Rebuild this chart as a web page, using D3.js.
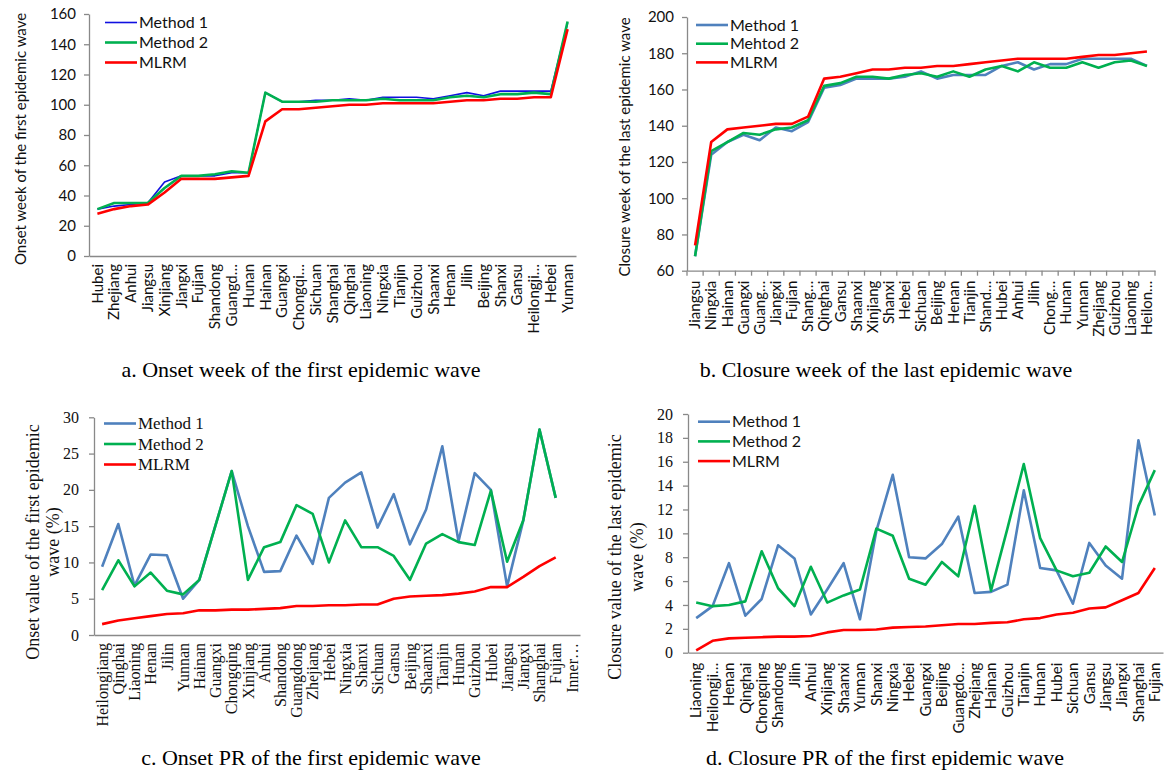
<!DOCTYPE html>
<html>
<head>
<meta charset="utf-8">
<script src="https://cdn.jsdelivr.net/npm/d3@7"></script>
<style>
  body { margin: 0; background: #fff; }
  svg { display: block; }
</style>
</head>
<body>
<svg id="chart" width="1168" height="774"></svg>
<script>
// ---------- Series names ----------
const seriesNames = ["Method 1", "Method 2", "MLRM"];
const seriesNamesB = ["Method 1", "Mehtod 2", "MLRM"];

// ---------- a. Onset week of the first epidemic wave ----------
const catsA = ["Hubei","Zhejiang","Anhui","Jiangsu","Xinjiang","Jiangxi","Fujian","Shandong","Guangd…","Hunan",
  "Hainan","Guangxi","Chongqi…","Sichuan","Shanghai","Qinghai","Liaoning","Ningxia","Tianjin","Guizhou",
  "Shaanxi","Henan","Jilin","Beijing","Shanxi","Gansu","Heilongji…","Hebei","Yunnan"];
const aMethod1 = [31,33,34,35,49,53,53,53,55,55,108,102,102,103,103,104,103,105,105,105,104,106,108,106,109,109,109,109,154];
const aMethod2 = [31,35,35,35,45,53,53,54,56,55,108,102,102,102,103,103,103,104,103,103,103,105,106,105,107,107,108,107,155];
const aMLRM    = [28,31,33,34,42,51,51,51,52,53,89,97,97,98,99,100,100,101,101,101,101,102,103,103,104,104,105,105,150];
const yTicksA = [0,20,40,60,80,100,120,140,160];

// ---------- b. Closure week of the last epidemic wave ----------
const catsB = ["Jiangsu","Ningxia","Hainan","Guangxi","Guang…","Jiangxi","Fujian","Shang…","Qinghai","Gansu",
  "Shaanxi","Xinjiang","Shanxi","Hebei","Sichuan","Beijing","Henan","Tianjin","Shand…","Hubei",
  "Anhui","Jilin","Chong…","Hunan","Yunnan","Zhejiang","Guizhou","Liaoning","Heilon…"];
const bMethod1 = [68,124,131,135,132,139,137,142,161,162.5,166,166,166,167,170,166,168,168,168,173,175,171,174,174,177,177,177,177,173];
const bMethod2 = [68,126,131,136,135,138,139,143,162,163.5,167,167,166,168,169,167,170,167,171,173,170,175,172,172,175,172,175,176,173];
const bMLRM    = [74,131,138,139,140,141,141,145,166,167,169,171,171,172,172,173,173,174,175,176,177,177,177,177,178,179,179,180,181];
const yTicksB = [60,80,100,120,140,160,180,200];

// ---------- c. Onset PR of the first epidemic wave ----------
const catsC = ["Heilongjiang","Qinghai","Liaoning","Henan","Jilin","Yunnan","Hainan","Guangxi","Chongqing","Xinjiang",
  "Anhui","Shandong","Guangdong","Zhejiang","Hebei","Ningxia","Shanxi","Sichuan","Gansu","Beijing",
  "Shaanxi","Tianjin","Hunan","Guizhou","Hubei","Jiangsu","Jiangxi","Shanghai","Fujian","Inner…"];
const cMethod1 = [9.4,15.3,6.8,11.1,11.0,5.0,7.6,15.1,22.6,15.0,8.7,8.8,13.7,9.8,18.9,21.0,22.4,14.8,19.4,12.5,17.3,26.0,12.9,22.3,20.0,6.7,15.8,28.3,18.9,null];
const cMethod2 = [6.2,10.3,6.7,8.6,6.1,5.6,7.6,15.1,22.6,7.6,12.1,12.8,17.9,16.7,10.0,15.8,12.1,12.1,10.9,7.6,12.6,13.9,12.8,12.4,19.9,10.1,15.8,28.3,18.9,null];
const cMLRM    = [1.5,2.0,2.3,2.6,2.9,3.0,3.4,3.4,3.5,3.5,3.6,3.7,4.0,4.0,4.1,4.1,4.2,4.2,5.0,5.3,5.4,5.5,5.7,6.0,6.6,6.6,8.0,9.5,10.7,null];
const yTicksC = [0,5,10,15,20,25,30];

// ---------- d. Closure PR of the first epidemic wave ----------
const catsD = ["Liaoning","Heilongji…","Henan","Qinghai","Chongqing","Shandong","Jilin","Anhui","Xinjiang","Shaanxi",
  "Yunnan","Shanxi","Ningxia","Hebei","Guangxi","Beijing","Guangdo…","Zhejiang","Hainan","Guizhou",
  "Tianjin","Hunan","Hubei","Sichuan","Gansu","Jiangsu","Jiangxi","Shanghai","Fujian"];
const dMethod1 = [2.9,3.9,7.5,3.1,4.5,9.0,7.9,3.2,5.3,7.5,2.8,10.2,14.9,8.0,7.9,9.1,11.4,5.0,5.1,5.7,13.6,7.1,6.9,4.1,9.2,7.3,6.2,17.8,11.5];
const dMethod2 = [4.2,3.9,4.0,4.3,8.5,5.4,3.9,7.2,4.2,4.8,5.3,10.4,9.8,6.2,5.7,7.6,6.4,12.3,5.2,10.4,15.8,9.6,6.9,6.4,6.7,8.9,7.6,12.3,15.3];
const dMLRM    = [0.2,1.0,1.2,1.25,1.3,1.35,1.35,1.4,1.7,1.9,1.9,1.95,2.1,2.15,2.2,2.3,2.4,2.4,2.5,2.55,2.8,2.9,3.2,3.35,3.7,3.8,4.4,5.0,7.1];
const yTicksD = [0,2,4,6,8,10,12,14,16,18,20];

// ---------- Shared styling ----------
const SANS = "Lato, 'Liberation Sans', sans-serif";
const SERIF = "'Liberation Serif', 'Times New Roman', serif";
const AXIS = "#898989";
const RED = "#ff0000";
const GREEN = "#00b050";
const STEEL = "#4f81bd";
const BLUE = "#1010e0";

const svg = d3.select("#chart");

function drawPanel(p) {
  const g = svg.append("g");
  const x = d3.scaleBand().domain(p.cats).range([p.x0, p.x1]);
  const y = d3.scaleLinear().domain(p.yDomain).range([p.yBottom, p.yTop]);
  const half = x.bandwidth() / 2;

  // y axis
  const ya = g.append("g")
    .attr("transform", `translate(${p.x0},0)`)
    .call(d3.axisLeft(y).tickValues(p.yTicks).tickSize(5).tickSizeOuter(0).tickPadding(p.yPad).tickFormat(d3.format("d")));
  ya.select(".domain").attr("stroke", AXIS).attr("stroke-width", 1.3);
  ya.selectAll(".tick line").attr("stroke", AXIS).attr("stroke-width", 1.3);
  ya.selectAll(".tick text").attr("fill", "#111").style("font-family", p.tickFont).style("font-size", p.tickSize + "px");

  // x axis with vertical category labels
  const xa = g.append("g")
    .attr("transform", `translate(0,${p.yBottom})`)
    .call(d3.axisBottom(x).tickSize(0).tickSizeOuter(0));
  xa.select(".domain").attr("stroke", AXIS).attr("stroke-width", 1.3);
  xa.selectAll(".tick text")
    .attr("transform", "rotate(-90)")
    .attr("x", -p.xPad).attr("y", 0).attr("dy", "0.35em")
    .attr("text-anchor", "end")
    .attr("fill", "#111")
    .style("font-family", p.catFont).style("font-size", p.catSize + "px");

  if (p.boundaryTicks) {
    const edges = p.cats.map(c => x(c)).concat([p.x1]);
    g.append("g").selectAll("line").data(edges).join("line")
      .attr("x1", d => d).attr("x2", d => d)
      .attr("y1", p.yBottom).attr("y2", p.yBottom + 5)
      .attr("stroke", AXIS).attr("stroke-width", 1.3);
  }

  // series lines
  const line = d3.line()
    .defined(d => d.v != null)
    .x(d => x(d.c) + half)
    .y(d => y(d.v));
  p.series.forEach(s => {
    g.append("path")
      .datum(s.values.map((v, i) => ({ c: p.cats[i], v })))
      .attr("fill", "none")
      .attr("stroke", s.color)
      .attr("stroke-width", s.width)
      .attr("stroke-linejoin", "round")
      .attr("d", line);
  });

  // legend
  const lg = g.append("g");
  p.legendOrder.forEach((k, i) => {
    const s = p.series[k];
    const yy = p.legY + i * p.legStep;
    lg.append("line")
      .attr("x1", p.legX).attr("x2", p.legX + 32)
      .attr("y1", yy).attr("y2", yy)
      .attr("stroke", s.color).attr("stroke-width", s.width);
    lg.append("text")
      .attr("x", p.legX + 34).attr("y", yy).attr("dy", "0.35em")
      .attr("fill", "#111")
      .style("font-family", p.legFont).style("font-size", p.legSize + "px")
      .text(s.name);
  });

  // y axis title (one or two rotated lines)
  p.yTitle.forEach((t, i) => {
    g.append("text")
      .attr("transform", `translate(${p.yTitleX[i]},${p.yTitleY}) rotate(-90)`)
      .attr("text-anchor", "middle")
      .attr("fill", "#111")
      .style("font-family", p.titleFont).style("font-size", p.titleSize + "px")
      .text(t);
  });

  // caption
  g.append("text")
    .attr("x", p.capX).attr("y", p.capY)
    .attr("text-anchor", "middle")
    .attr("fill", "#000")
    .style("font-family", SERIF).style("font-size", "22px")
    .text(p.caption);
}

drawPanel({
  cats: catsA, x0: 89, x1: 576, yTop: 14, yBottom: 256, yDomain: [0, 160], yTicks: yTicksA,
  yPad: 8, xPad: 8, tickFont: SANS, tickSize: 15, catFont: SANS, catSize: 15,
  series: [
    { name: seriesNames[0], values: aMethod1, color: BLUE, width: 1.6 },
    { name: seriesNames[1], values: aMethod2, color: GREEN, width: 2.6 },
    { name: seriesNames[2], values: aMLRM, color: RED, width: 2.6 }
  ],
  legendOrder: [0, 1, 2], legX: 105, legY: 22.5, legStep: 20, legFont: SANS, legSize: 16,
  yTitle: ["Onset week of the first epidemic wave"], yTitleX: [26], yTitleY: 139, titleFont: SANS, titleSize: 15,
  caption: "a. Onset week of the first epidemic wave", capX: 301, capY: 377
});

drawPanel({
  cats: catsB, x0: 687, x1: 1155, yTop: 17, yBottom: 270.7, yDomain: [60, 200], yTicks: yTicksB,
  yPad: 8, xPad: 10, tickFont: SANS, tickSize: 15, catFont: SANS, catSize: 15, boundaryTicks: true,
  series: [
    { name: seriesNamesB[0], values: bMethod1, color: STEEL, width: 2.6 },
    { name: seriesNamesB[1], values: bMethod2, color: GREEN, width: 2.6 },
    { name: seriesNamesB[2], values: bMLRM, color: RED, width: 2.6 }
  ],
  legendOrder: [0, 1, 2], legX: 696, legY: 25, legStep: 18.7, legFont: SANS, legSize: 16,
  yTitle: ["Closure week of the last epidemic wave"], yTitleX: [630], yTitleY: 147, titleFont: SANS, titleSize: 15,
  caption: "b. Closure week of the last epidemic wave", capX: 886, capY: 377
});

drawPanel({
  cats: catsC, x0: 94, x1: 580, yTop: 417.3, yBottom: 635, yDomain: [0, 30], yTicks: yTicksC,
  yPad: 10, xPad: 8, tickFont: SERIF, tickSize: 16, catFont: SERIF, catSize: 16,
  series: [
    { name: seriesNames[0], values: cMethod1, color: STEEL, width: 2.6 },
    { name: seriesNames[1], values: cMethod2, color: GREEN, width: 2.6 },
    { name: seriesNames[2], values: cMLRM, color: RED, width: 2.6 }
  ],
  legendOrder: [0, 1, 2], legX: 104, legY: 423.5, legStep: 20.5, legFont: SERIF, legSize: 17,
  yTitle: ["Onset value of the first epidemic", "wave (%)"], yTitleX: [39, 59], yTitleY: 542, titleFont: SERIF, titleSize: 18,
  caption: "c. Onset PR of the first epidemic wave", capX: 311, capY: 765
});

drawPanel({
  cats: catsD, x0: 688, x1: 1163, yTop: 414, yBottom: 652.7, yDomain: [0, 20], yTicks: yTicksD,
  yPad: 10, xPad: 10, tickFont: SERIF, tickSize: 16, catFont: SANS, catSize: 15,
  series: [
    { name: seriesNames[0], values: dMethod1, color: STEEL, width: 2.6 },
    { name: seriesNames[1], values: dMethod2, color: GREEN, width: 2.6 },
    { name: seriesNames[2], values: dMLRM, color: RED, width: 2.6 }
  ],
  legendOrder: [0, 1, 2], legX: 698, legY: 421.7, legStep: 19.7, legFont: SANS, legSize: 16,
  yTitle: ["Closure value of the last epidemic", "wave (%)"], yTitleX: [621, 643], yTitleY: 557, titleFont: SERIF, titleSize: 18,
  caption: "d. Closure PR of the first epidemic wave", capX: 885, capY: 765
});
</script>
</body>
</html>
